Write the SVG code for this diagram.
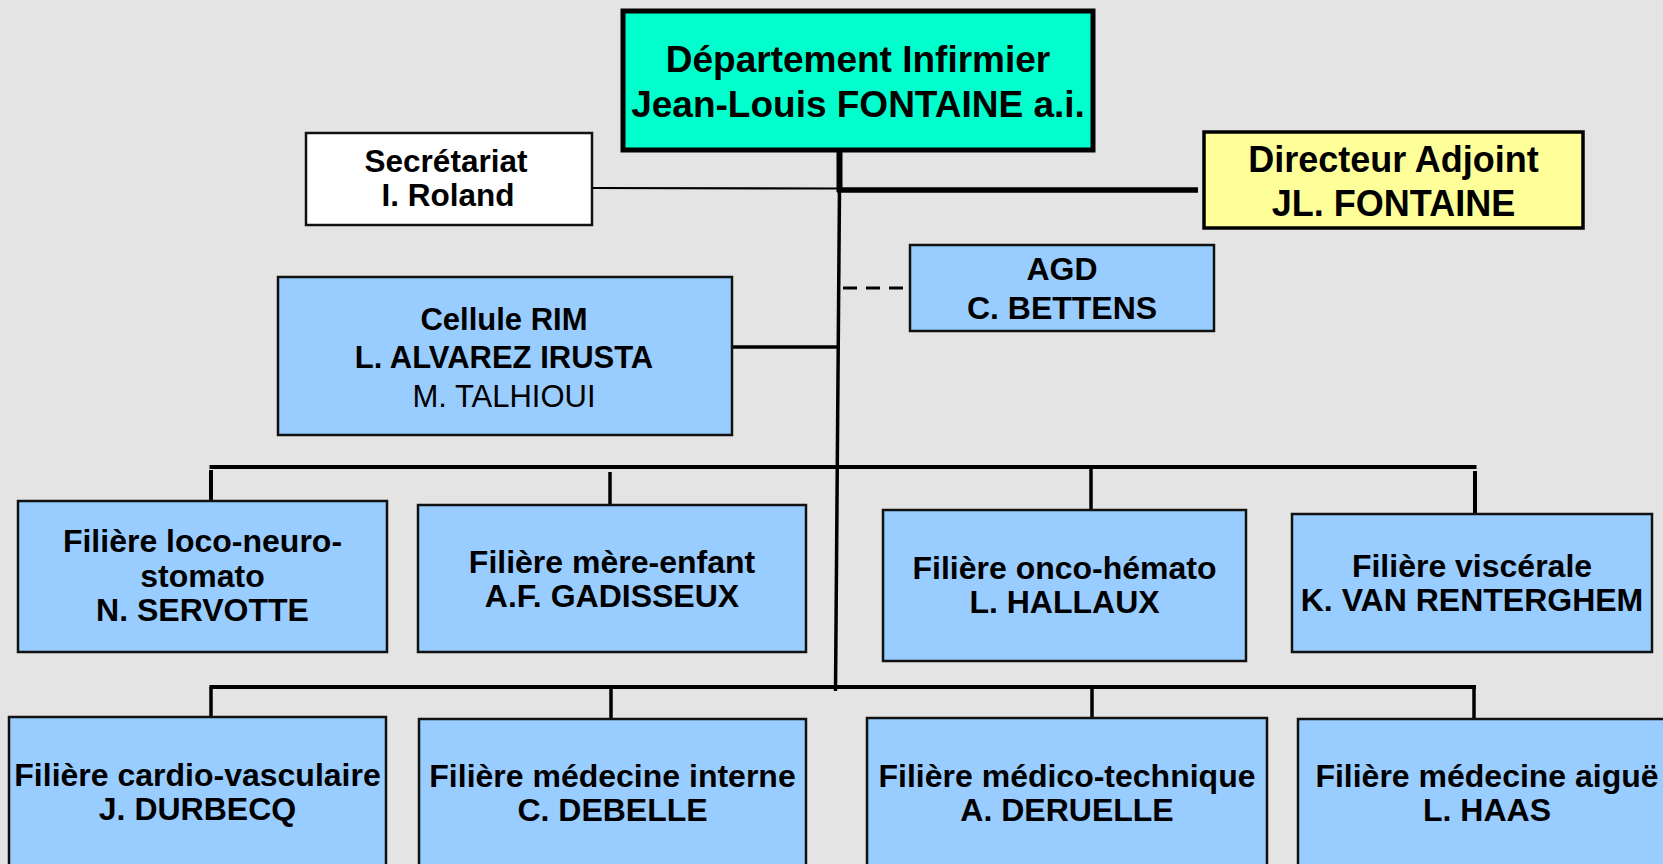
<svg xmlns="http://www.w3.org/2000/svg" width="1663" height="864" viewBox="0 0 1663 864">
<style>
.bg{fill:#E4E4E4}
.box{stroke:#111;stroke-width:2.5}
.blue{fill:#99CCFF}
.t{font-family:"Liberation Sans",Arial,sans-serif;font-weight:bold;fill:#000;text-anchor:middle}
.n{font-weight:normal}
.ln{stroke:#000;fill:none}
</style>
<rect class="bg" x="0" y="0" width="1663" height="864"/>
<g id="connectors">
  <line class="ln" x1="839.5" y1="150" x2="839.5" y2="192" stroke-width="6"/>
  <line class="ln" x1="839.5" y1="188" x2="835.5" y2="691" stroke-width="3.5"/>
  <line class="ln" x1="592" y1="188" x2="838" y2="188.5" stroke-width="2.2"/>
  <line class="ln" x1="837" y1="190" x2="1198" y2="190" stroke-width="5.5"/>
  <line class="ln" x1="732" y1="347" x2="838" y2="347" stroke-width="3.5"/>
  <line class="ln" x1="843" y1="288" x2="907" y2="288" stroke-width="3" stroke-dasharray="14 9"/>
  <line class="ln" x1="209.5" y1="467" x2="1476.5" y2="467" stroke-width="4"/>
  <line class="ln" x1="211" y1="470" x2="211" y2="501" stroke-width="4"/>
  <line class="ln" x1="610" y1="472" x2="610" y2="505" stroke-width="3.5"/>
  <line class="ln" x1="1091" y1="467" x2="1091" y2="510" stroke-width="3.5"/>
  <line class="ln" x1="1475" y1="471" x2="1475" y2="514" stroke-width="4"/>
  <line class="ln" x1="209.5" y1="687" x2="1476" y2="687" stroke-width="4"/>
  <line class="ln" x1="211" y1="687" x2="211" y2="717" stroke-width="3.5"/>
  <line class="ln" x1="611" y1="687" x2="611" y2="719" stroke-width="3.5"/>
  <line class="ln" x1="1092" y1="687" x2="1092" y2="718" stroke-width="3.5"/>
  <line class="ln" x1="1474" y1="687" x2="1474" y2="719" stroke-width="3.5"/>
</g>
<g id="departement">
  <rect x="623" y="11" width="470" height="139" fill="#00FFCC" stroke="#000" stroke-width="5"/>
  <text class="t" x="858" y="72" font-size="37">Département Infirmier</text>
  <text class="t" x="858" y="117" font-size="37">Jean-Louis FONTAINE a.i.</text>
</g>
<g id="secretariat">
  <rect class="box" x="306" y="133" width="286" height="92" fill="#FFFFFF"/>
  <text class="t" x="446" y="172" font-size="31.5">Secrétariat</text>
  <text class="t" x="448" y="206" font-size="31.5">I. Roland</text>
</g>
<g id="directeur">
  <rect x="1204" y="132" width="379" height="96" fill="#FFFF99" stroke="#000" stroke-width="3.5"/>
  <text class="t" x="1393.5" y="172" font-size="36">Directeur Adjoint</text>
  <text class="t" x="1393.5" y="216" font-size="36">JL. FONTAINE</text>
</g>
<g id="agd">
  <rect class="box blue" x="910" y="245" width="304" height="86"/>
  <text class="t" x="1062" y="280" font-size="32">AGD</text>
  <text class="t" x="1062" y="319" font-size="32">C. BETTENS</text>
</g>
<g id="cellule-rim">
  <rect class="box blue" x="278" y="277" width="454" height="158"/>
  <text class="t" x="504" y="330" font-size="31">Cellule RIM</text>
  <text class="t" x="504" y="368" font-size="31">L. ALVAREZ IRUSTA</text>
  <text class="t n" x="504" y="407" font-size="31">M. TALHIOUI</text>
</g>
<g id="loco">
  <rect class="box blue" x="18" y="501" width="369" height="151"/>
  <text class="t" x="202.5" y="552" font-size="32">Filière loco-neuro-</text>
  <text class="t" x="202.5" y="587" font-size="32">stomato</text>
  <text class="t" x="202.5" y="621" font-size="32">N. SERVOTTE</text>
</g>
<g id="mere-enfant">
  <rect class="box blue" x="418" y="505" width="388" height="147"/>
  <text class="t" x="612" y="573" font-size="32">Filière mère-enfant</text>
  <text class="t" x="612" y="607" font-size="32">A.F. GADISSEUX</text>
</g>
<g id="onco">
  <rect class="box blue" x="883" y="510" width="363" height="151"/>
  <text class="t" x="1064.5" y="579" font-size="32">Filière onco-hémato</text>
  <text class="t" x="1064.5" y="613" font-size="32">L. HALLAUX</text>
</g>
<g id="viscerale">
  <rect class="box blue" x="1292" y="514" width="360" height="138"/>
  <text class="t" x="1472" y="577" font-size="32">Filière viscérale</text>
  <text class="t" x="1472" y="611" font-size="32">K. VAN RENTERGHEM</text>
</g>
<g id="cardio">
  <rect class="box blue" x="9" y="717" width="377" height="160"/>
  <text class="t" x="197.5" y="786" font-size="32">Filière cardio-vasculaire</text>
  <text class="t" x="197.5" y="820" font-size="32">J. DURBECQ</text>
</g>
<g id="medecine-interne">
  <rect class="box blue" x="419" y="719" width="387" height="160"/>
  <text class="t" x="612.5" y="787" font-size="32">Filière médecine interne</text>
  <text class="t" x="612.5" y="821" font-size="32">C. DEBELLE</text>
</g>
<g id="medico-technique">
  <rect class="box blue" x="867" y="718" width="400" height="160"/>
  <text class="t" x="1067" y="787" font-size="32">Filière médico-technique</text>
  <text class="t" x="1067" y="821" font-size="32">A. DERUELLE</text>
</g>
<g id="medecine-aigue">
  <rect class="box blue" x="1298" y="719" width="378" height="160"/>
  <text class="t" x="1487" y="787" font-size="32">Filière médecine aiguë</text>
  <text class="t" x="1487" y="821" font-size="32">L. HAAS</text>
</g>
</svg>
